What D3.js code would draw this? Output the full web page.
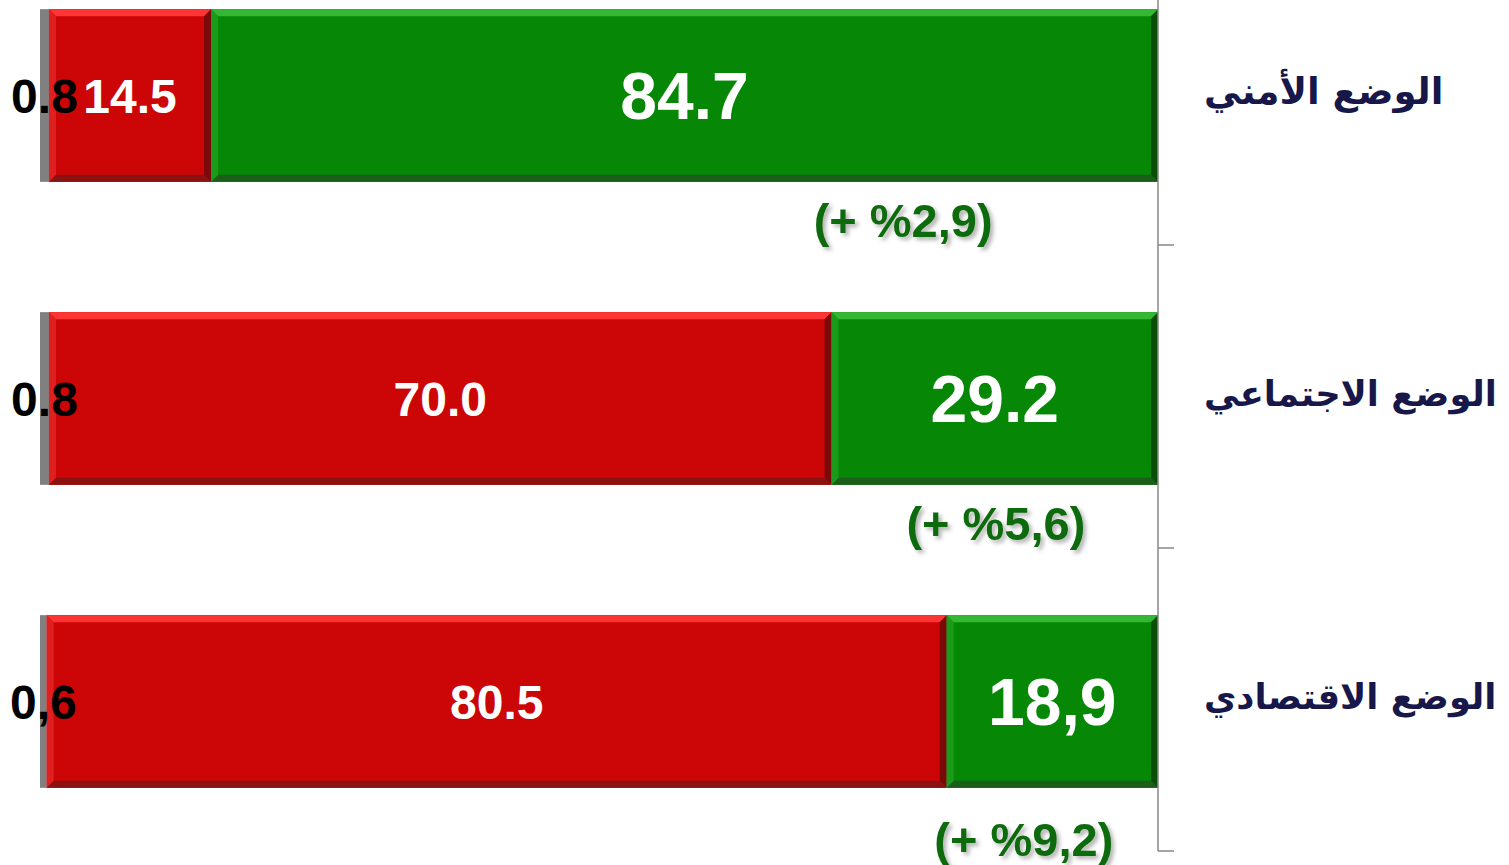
<!DOCTYPE html>
<html>
<head>
<meta charset="utf-8">
<script src="https://cdn.jsdelivr.net/npm/d3@7"></script>
<style>
  body { margin: 0; background: #fff; }
  svg { display: block; }
</style>
</head>
<body>
<div class="canvas"></div>
<script>
// Data
const categories = ['الوضع الأمني', 'الوضع الاجتماعي', 'الوضع الاقتصادي'];
const greyValues = [0.8, 0.8, 0.6];
const redValues = [14.5, 70.0, 80.5];
const greenValues = [84.7, 29.2, 18.9];
const greyLabels = ['0.8', '0.8', '0,6'];
const redLabels = ['14.5', '70.0', '80.5'];
const greenLabels = ['84.7', '29.2', '18,9'];
const changeLabels = ['(+ %2,9)', '(+ %5,6)', '(+ %9,2)'];

// Graph set up
const svgWidth = 1509;
const svgHeight = 865;

const svg = d3.select('.canvas')
    .append('svg')
    .attr('width', svgWidth)
    .attr('height', svgHeight);

// Scales
const x = d3.scaleLinear().domain([0, 100]).range([40, 1158]);
const y = d3.scaleBand().domain(categories).range([-56, 853]).paddingInner(0.43).paddingOuter(0.215);

const defs = svg.append('defs');
const shadow = defs.append('filter').attr('id', 'shadow')
    .attr('x', '-10%').attr('y', '-10%').attr('width', '130%').attr('height', '140%');
shadow.append('feDropShadow')
    .attr('dx', 3).attr('dy', 3).attr('stdDeviation', 2)
    .attr('flood-color', '#000').attr('flood-opacity', 0.3);

// stack rows
const rows = categories.map((c, i) => {
    const g0 = 0, g1 = greyValues[i];
    const r1 = g1 + redValues[i];
    const gr1 = r1 + greenValues[i];
    return {
        cat: c,
        segs: [
            {kind: 'grey', x0: g0, x1: g1, label: greyLabels[i]},
            {kind: 'red', x0: g1, x1: r1, label: redLabels[i]},
            {kind: 'green', x0: r1, x1: gr1, label: greenLabels[i]}
        ]
    };
});

const colors = {
    grey:  {base: '#808080'},
    red:   {base: '#cc0606', top: '#ff3434', bottom: '#8c1212', side: '#7a0a0a', left: '#e02020'},
    green: {base: '#068806', top: '#34b834', bottom: '#1a5e1a', side: '#0a4e0a', left: '#1a9c1a'}
};

const bev = 7;

const rowGroups = svg.selectAll('g.row')
    .data(rows)
    .enter()
    .append('g')
    .attr('class', 'row');

rowGroups.each(function(d) {
    const g = d3.select(this);
    const y0 = y(d.cat);
    const h = y.bandwidth();
    d.segs.forEach(s => {
        const xa = x(s.x0), xb = x(s.x1);
        const c = colors[s.kind];
        g.append('rect')
            .attr('x', xa).attr('y', y0)
            .attr('width', xb - xa).attr('height', h)
            .attr('fill', c.base);
        if (s.kind === 'grey') return;
        const b = Math.min(bev, (xb - xa) / 2);
        // top bevel
        g.append('polygon')
            .attr('points', [[xa, y0], [xb, y0], [xb - b, y0 + b], [xa + b, y0 + b]].join(' '))
            .attr('fill', c.top);
        // bottom bevel
        g.append('polygon')
            .attr('points', [[xa, y0 + h], [xb, y0 + h], [xb - b, y0 + h - b], [xa + b, y0 + h - b]].join(' '))
            .attr('fill', c.bottom);
        // right bevel
        g.append('polygon')
            .attr('points', [[xb, y0], [xb, y0 + h], [xb - b, y0 + h - b], [xb - b, y0 + b]].join(' '))
            .attr('fill', c.side);
        // left bevel
        g.append('polygon')
            .attr('points', [[xa, y0], [xa, y0 + h], [xa + b, y0 + h - b], [xa + b, y0 + b]].join(' '))
            .attr('fill', c.left);
    });

    // value labels
    d.segs.forEach(s => {
        const big = s.kind === 'green';
        g.append('text')
            .attr('x', x((s.x0 + s.x1) / 2))
            .attr('y', y0 + h / 2)
            .attr('dy', '0.36em')
            .attr('text-anchor', 'middle')
            .attr('font-family', '"Liberation Sans", Arial, sans-serif')
            .attr('font-weight', 'bold')
            .attr('font-size', big ? 66 : 48)
            .attr('fill', s.kind === 'grey' ? '#000' : '#fff')
            .text(s.label);
    });
});

// Change notes under the green segments
const noteX = [77.2, 85.5, 88];
svg.selectAll('text.note')
    .data(changeLabels)
    .enter()
    .append('text')
    .attr('class', 'note')
    .attr('x', (d, i) => x(noteX[i]))
    .attr('y', (d, i) => y(categories[i]) + y.bandwidth() + 38 + (i === 2 ? 13 : 0))
    .attr('dy', '0.36em')
    .attr('text-anchor', 'middle')
    .attr('font-family', '"Liberation Sans", Arial, sans-serif')
    .attr('font-weight', 'bold')
    .attr('font-size', 47)
    .attr('fill', '#0f6a0f')
    .attr('filter', 'url(#shadow)')
    .text(d => d);

// Axis on the right
const axisX = x(100);
svg.append('line')
    .attr('x1', axisX).attr('x2', axisX)
    .attr('y1', 0).attr('y2', y.range()[1] - 2)
    .attr('stroke', '#888').attr('stroke-width', 1.5);

const tickYs = categories.map(c => y(c) + y.bandwidth() + y.step() * y.paddingInner() / 2);
svg.selectAll('line.tick')
    .data(tickYs)
    .enter()
    .append('line')
    .attr('class', 'tick')
    .attr('x1', axisX).attr('x2', axisX + 16)
    .attr('y1', d => d - 2).attr('y2', d => d - 2)
    .attr('stroke', '#888').attr('stroke-width', 1.5);

// Category labels
const labelX = 1204;
const labelSize = 37;
const catLabels = svg.selectAll('text.cat')
    .data(categories)
    .enter()
    .append('text')
    .attr('class', 'cat')
    .attr('x', labelX)
    .attr('y', d => y(d) + y.bandwidth() / 2)
    .attr('dy', '0.22em')
    .attr('text-anchor', 'start')
    .attr('font-family', '"DejaVu Sans", sans-serif')
    .attr('font-weight', 'bold')
    .attr('font-size', labelSize)
    .attr('fill', '#17174a')
    .text(d => d);

// shrink a label that would run past the right edge
catLabels.each(function() {
    const len = this.getComputedTextLength();
    const maxLen = svgWidth - labelX - 12;
    if (len > maxLen) {
        d3.select(this).attr('font-size', Math.floor(labelSize * maxLen / len * 10) / 10);
    }
});
</script>
</body>
</html>
